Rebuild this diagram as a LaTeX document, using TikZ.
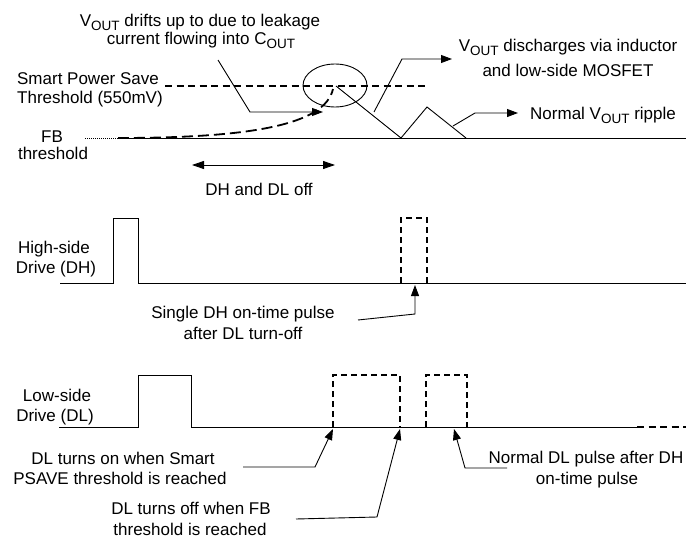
\documentclass[tikz,border=0pt]{standalone}
\usepackage{fontspec}
\setmainfont{Liberation Sans}
\usetikzlibrary{arrows.meta,shapes.geometric}
\newcommand{\lowsub}[1]{\raisebox{-4pt}{\fontsize{13.5}{14}\selectfont #1}}
\begin{document}
\begin{tikzpicture}[x=1pt,y=-1pt,
  font=\fontsize{17}{20}\selectfont,
  lbl/.style={anchor=base,inner sep=0pt},
  lblw/.style={anchor=base west,inner sep=0pt},
  wire/.style={line width=0.9pt},
  tip/.style={-{Triangle[length=11pt,width=8pt]}},
  pulsed/.style={line width=1.6pt,dash pattern=on 6pt off 4pt},
  thresh/.style={line width=2pt,dash pattern=on 7pt off 4.5pt},
  drift/.style={line width=1.8pt,dash pattern=on 11pt off 5pt},
]
\useasboundingbox (0,0) rectangle (686,538);

% ---------- texts ----------
\node[lbl] (t1) at (200,27) {V\lowsub{OUT} drifts up to due to leakage};
\node[lbl] (t2) at (201,45) {current flowing into C\lowsub{OUT}};
\node[lbl] (sp1) at (88,84) {Smart Power Save};
\node[lbl] (sp2) at (90,103) {Threshold (550mV)};
\node[lbl] (fb1) at (52,142) {FB};
\node[lbl] (fb2) at (53,159) {threshold};
\node[lbl] (dis1) at (568,51) {V\lowsub{OUT} discharges via inductor};
\node[lbl] (dis2) at (568,76) {and low-side MOSFET};
\node[lblw] (rip) at (530,119) {Normal V\lowsub{OUT} ripple};
\node[lbl] (off) at (259,195) {DH and DL off};
\node[lbl] (hs1) at (54,253) {High-side};
\node[lbl] (hs2) at (56,273) {Drive (DH)};
\node[lbl] (sg1) at (243,318) {Single DH on-time pulse};
\node[lbl] (sg2) at (243,339) {after DL turn-off};
\node[lbl] (ls1) at (57,401) {Low-side};
\node[lbl] (ls2) at (55,421) {Drive (DL)};
\node[lbl] (on1) at (123,464) {DL turns on when Smart};
\node[lbl] (on2) at (120,484) {PSAVE threshold is reached};
\node[lbl] (of1) at (191,514) {DL turns off when FB};
\node[lbl] (of2) at (190,535) {threshold is reached};
\node[lbl] (nd1) at (586,463) {Normal DL pulse after DH};
\node[lbl] (nd2) at (587,484) {on-time pulse};

% ---------- V_OUT waveform ----------
\coordinate (fbL) at (85,138);
\coordinate (fbM) at (118,138);
\coordinate (fbR) at (686,138);
\coordinate (peak) at (336,86);
\draw[line width=0.8pt,dash pattern=on 1pt off 1pt] (fbL) -- (fbM);
\draw[wire] (fbM) -- (fbR);
\draw[thresh] (165,86) -- (425,86);
\draw[drift] (fbM) .. controls (250,138) and (325,125) .. (333,89);
\draw[wire] (peak) -- (401,138) -- (427,107) -- (466,138);
\node[draw,wire,ellipse,minimum width=64pt,minimum height=43pt,inner sep=0pt] (circ) at (335,85.5) {};

% arrows of top section
\coordinate (a1s) at (218,60);
\coordinate (a1e) at (323,112);
\draw[wire,tip] (a1s) -- (250,112) -- (a1e);
\coordinate (a2s) at (374,112);
\coordinate (a2e) at (452,59);
\draw[wire,tip] (a2s) -- (402,59) -- (a2e);
\coordinate (a3s) at (453,126);
\coordinate (a3e) at (518,113);
\draw[wire,tip] (a3s) -- (475,113) -- (a3e);
\coordinate (dl) at (192,165);
\coordinate (dr) at (335,165);
\draw[wire,{Triangle[length=12pt,width=8pt]}-{Triangle[length=12pt,width=8pt]}] (dl) -- (dr);

% ---------- DH ----------
\draw[wire] (60,283) -- (113,283) -- (113,218) -- (138,218) -- (138,283) -- (686,283);
\draw[pulsed] (401,283) -- (401,218) -- (427,218) -- (427,283);
\coordinate (b1s) at (358,320);
\coordinate (b1e) at (415,285);
\draw[wire,tip] (b1s) -- (415,314) -- (b1e);

% ---------- DL ----------
\draw[wire] (59,427) -- (138,427) -- (138,375) -- (191,375) -- (191,427) -- (637,427);
\draw[thresh] (637,427) -- (686,427);
\draw[pulsed] (333,427) -- (333,375) -- (400,375) -- (400,427);
\draw[pulsed] (426,427) -- (426,375) -- (467,375) -- (467,427);
\coordinate (c1s) at (243,467);
\coordinate (c1e) at (333,429);
\draw[wire,tip] (c1s) -- (315,467) -- (c1e);
\coordinate (c2s) at (296,519);
\coordinate (c2e) at (400,429);
\draw[wire,tip] (c2s) -- (377,517) -- (c2e);
\coordinate (c3s) at (507,468);
\coordinate (c3e) at (454,429);
\draw[wire,tip] (c3s) -- (465,468) -- (c3e);
\end{tikzpicture}
\end{document}
